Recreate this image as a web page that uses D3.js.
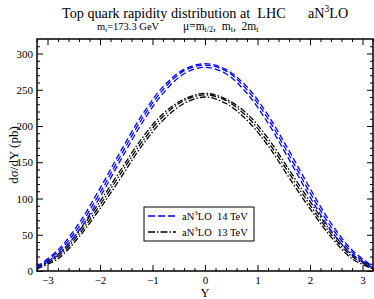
<!DOCTYPE html>
<html>
<head>
<meta charset="utf-8">
<script src="https://cdn.jsdelivr.net/npm/d3@7"></script>
<style>
  body { margin: 0; background: #fff; }
  text { font-family: "Liberation Serif", "DejaVu Serif", serif; white-space: pre; }
</style>
</head>
<body>
<svg width="374" height="299"></svg>
<script>
// rapidity grid and curves
var rapidity = [-3.2, -2.8, -2.4, -2.0, -1.6, -1.2, -0.8, -0.4, 0, 0.4, 0.8, 1.2, 1.6, 2.0, 2.4, 2.8, 3.2];

var lhc14Half = [6, 29, 66, 114, 166, 215, 254, 278, 286, 278, 254, 215, 166, 114, 66, 29, 6];
var lhc14Mt   = [5, 26, 61, 108, 160, 210, 250, 276, 284, 276, 250, 210, 160, 108, 61, 26, 5];
var lhc14Two  = [4, 22, 56, 102, 154, 204, 245, 272, 281, 272, 245, 204, 154, 102, 56, 22, 4];

var lhc13Half = [5, 23, 55, 96, 140, 183, 217, 237, 245, 237, 217, 183, 140, 96, 55, 23, 5];
var lhc13Mt   = [4, 20, 51, 91, 135, 178, 213, 235, 243, 235, 213, 178, 135, 91, 51, 20, 4];
var lhc13Two  = [3, 17, 47, 86, 129, 173, 208, 231, 240, 231, 208, 173, 129, 86, 47, 17, 3];

var xTicks = [-3, -2, -1, 0, 1, 2, 3];
var yTicks = [0, 50, 100, 150, 200, 250, 300];

var svg = d3.select("svg"),
    margin = {top: 39, right: 1, bottom: 28, left: 37},
    width = +svg.attr("width") - margin.left - margin.right,
    height = +svg.attr("height") - margin.top - margin.bottom,
    g = svg.append("g").attr("transform", "translate(" + margin.left + "," + margin.top + ")");

var x = d3.scaleLinear().domain([-3.2, 3.2]).range([0, width]);
var y = d3.scaleLinear().domain([0, 320]).range([height, 0]);

// ticks inward on all four sides
var minorX = d3.range(-3.2, 3.21, 0.2).filter(function(v) { return Math.abs(v - Math.round(v)) > 0.01; });
var minorY = d3.range(10, 320, 10).filter(function(v) { return v % 50 != 0; });

function tickStyle(sel) {
  sel.attr("font-family", "Liberation Serif").attr("font-size", 11);
  sel.select(".domain").remove();
  sel.selectAll("line").attr("stroke", "#000").attr("stroke-width", 1);
  sel.selectAll("text").attr("fill", "#000");
}

g.append("g").attr("transform", "translate(0," + height + ")")
  .call(d3.axisBottom(x).tickValues(xTicks).tickSizeInner(-6).tickSizeOuter(0).tickPadding(5).tickFormat(d3.format("d")))
  .call(tickStyle);
g.append("g").attr("transform", "translate(0," + height + ")")
  .call(d3.axisBottom(x).tickValues(minorX).tickSize(-3).tickFormat(""))
  .call(tickStyle);
g.append("g")
  .call(d3.axisTop(x).tickValues(xTicks).tickSize(-6).tickFormat(""))
  .call(tickStyle);
g.append("g")
  .call(d3.axisTop(x).tickValues(minorX).tickSize(-3).tickFormat(""))
  .call(tickStyle);

g.append("g")
  .call(d3.axisLeft(y).tickValues(yTicks).tickSizeInner(-6).tickSizeOuter(0).tickPadding(4).tickFormat(d3.format("d")))
  .call(tickStyle);
g.append("g")
  .call(d3.axisLeft(y).tickValues(minorY).tickSize(-3).tickFormat(""))
  .call(tickStyle);
g.append("g").attr("transform", "translate(" + width + ",0)")
  .call(d3.axisRight(y).tickValues(yTicks).tickSize(-6).tickFormat(""))
  .call(tickStyle);
g.append("g").attr("transform", "translate(" + width + ",0)")
  .call(d3.axisRight(y).tickValues(minorY).tickSize(-3).tickFormat(""))
  .call(tickStyle);

// frame
g.append("rect")
  .attr("width", width).attr("height", height)
  .attr("fill", "none").attr("stroke", "#000").attr("stroke-width", 1.5);

// curves
var line = d3.line()
  .x(function(d) { return x(d[0]); })
  .y(function(d) { return y(d[1]); })
  .curve(d3.curveCatmullRom);

var series = [
  {v: lhc13Half, color: "#000", dash: "6,2,1.5,2"},
  {v: lhc13Mt,   color: "#000", dash: "6,2,1.5,2"},
  {v: lhc13Two,  color: "#000", dash: "6,2,1.5,2"},
  {v: lhc14Half, color: "#0000ff", dash: "6,3"},
  {v: lhc14Mt,   color: "#0000ff", dash: "6,3"},
  {v: lhc14Two,  color: "#0000ff", dash: "6,3"}
];

g.append("clipPath").attr("id", "clip").append("rect").attr("width", width).attr("height", height);

g.append("g").attr("clip-path", "url(#clip)")
  .selectAll("path")
  .data(series)
  .enter().append("path")
  .attr("d", function(s) { return line(rapidity.map(function(r, i) { return [r, s.v[i]]; })); })
  .attr("fill", "none")
  .attr("stroke", function(s) { return s.color; })
  .attr("stroke-width", 1.3)
  .attr("stroke-dasharray", function(s) { return s.dash; });

// legend
var leg = svg.append("g").attr("transform", "translate(144,207)");
leg.append("rect").attr("width", 110).attr("height", 34)
  .attr("fill", "#fff").attr("stroke", "#000").attr("stroke-width", 1);
var legItems = [
  {label: "  14 TeV", color: "#0000ff", dash: "7,3"},
  {label: "  13 TeV", color: "#000", dash: "7,2,1.5,2"}
];
var li = leg.selectAll("g.item").data(legItems).enter().append("g")
  .attr("transform", function(d, i) { return "translate(0," + (9 + i * 16) + ")"; });
li.append("line").attr("x1", 4).attr("x2", 32).attr("y1", 0).attr("y2", 0)
  .attr("stroke", function(d) { return d.color; }).attr("stroke-width", 1.3)
  .attr("stroke-dasharray", function(d) { return d.dash; });
var lt = li.append("text").attr("x", 38).attr("y", 4).attr("font-size", 10.5);
lt.append("tspan").text("aN");
lt.append("tspan").attr("dy", -5).attr("font-size", 7).text("3");
lt.append("tspan").attr("dy", 5).text("LO");
lt.append("tspan").text(function(d) { return d.label; });

// titles
var t = svg.append("text").attr("x", 62).attr("y", 18).attr("font-size", 14.2);
t.append("tspan").text("Top quark rapidity distribution at  LHC");
t.append("tspan").attr("x", 308).text("aN");
t.append("tspan").attr("dy", -6).attr("font-size", 9.5).text("3");
t.append("tspan").attr("dy", 6).text("LO");

var st = svg.append("text").attr("x", 97).attr("y", 30).attr("font-size", 10.5);
st.append("tspan").text("m");
st.append("tspan").attr("dy", 2).attr("font-size", 7).text("t");
st.append("tspan").attr("dy", -2).text("=173.3 GeV");

var st2 = svg.append("text").attr("x", 183).attr("y", 30).attr("font-size", 11.5);
st2.append("tspan").text("\u03bc=m");
st2.append("tspan").attr("dy", 2).attr("font-size", 8).text("t/2");
st2.append("tspan").attr("dy", -2).text(",  m");
st2.append("tspan").attr("dy", 2).attr("font-size", 8).text("t");
st2.append("tspan").attr("dy", -2).text(",  2m");
st2.append("tspan").attr("dy", 2).attr("font-size", 8).text("t");

// axis titles
svg.append("text").attr("x", margin.left + x(0)).attr("y", 297)
  .attr("text-anchor", "middle").attr("font-size", 12.5).text("Y");
svg.append("text").attr("transform", "translate(18," + (margin.top + height / 2) + ") rotate(-90)")
  .attr("text-anchor", "middle").attr("font-size", 13).text("d\u03c3/dY (pb)");
</script>
</body>
</html>
